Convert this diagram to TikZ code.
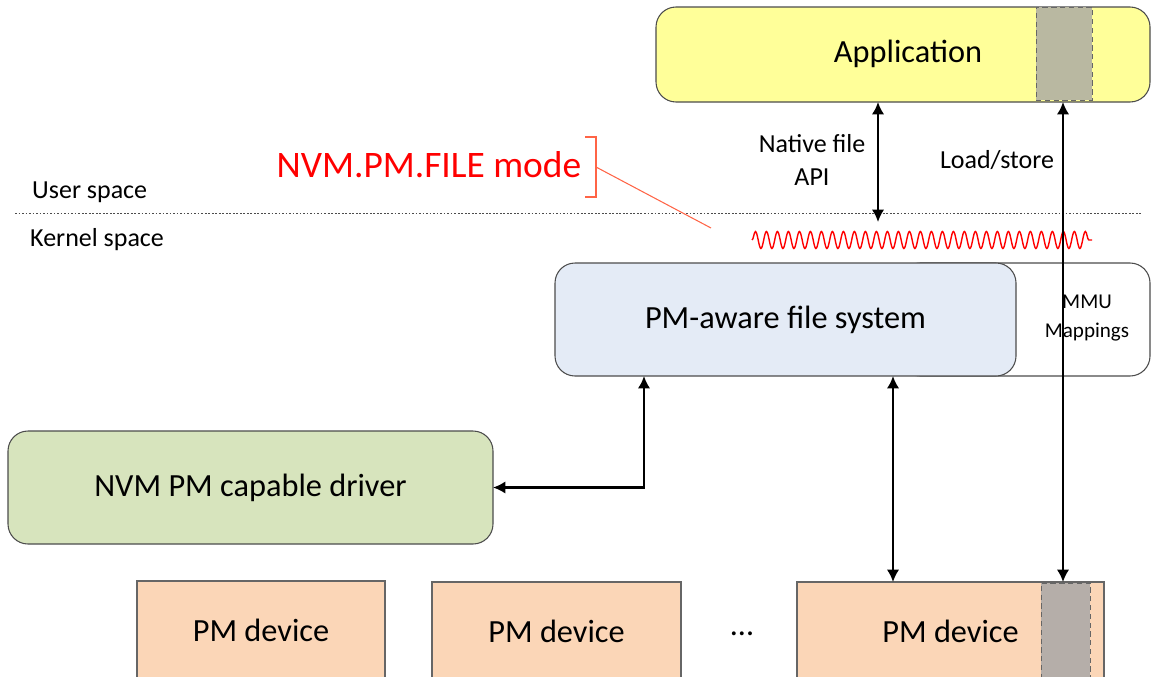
\documentclass[tikz,border=0pt]{standalone}
\usepackage{fontspec}
\setmainfont{Carlito}
\usetikzlibrary{positioning, calc}
\usetikzlibrary{arrows.meta, decorations.pathmorphing}
\definecolor{appyellow}{RGB}{255,255,153}
\definecolor{appslot}{RGB}{185,184,161}
\definecolor{devslot}{RGB}{181,174,169}
\definecolor{fsblue}{RGB}{228,235,246}
\definecolor{drvgreen}{RGB}{215,228,189}
\definecolor{pmpeach}{RGB}{251,214,183}
\definecolor{modered}{RGB}{255,100,70}
\tikzset{boxsize/.style 2 args={minimum width=#1*0.02cm, minimum height=#2*0.02cm}}
\tikzstyle{roundbox}=[draw=black!70, line width=0.6pt, rounded corners=0.4cm, inner sep=0pt, outer sep=0pt, font=\fontsize{18.4}{22}\selectfont]
\tikzstyle{devbox}=[draw=black!60, line width=0.6pt, fill=pmpeach, inner sep=0pt, outer sep=0pt, font=\fontsize{18.4}{22}\selectfont]
\tikzstyle{slotbox}=[draw=black!60, densely dashed, line width=0.4pt, inner sep=0pt, outer sep=0pt]
\tikzstyle{labeltext}=[font=\fontsize{14.8}{18.7}\selectfont, align=center]
\tikzstyle{modeline}=[draw=modered, line width=0.6pt]
\tikzstyle{edgepath} = [{Latex[length=7pt,width=7pt]}-{Latex[length=7pt,width=7pt]}, line width=1.2pt]

\begin{document}
\begin{tikzpicture}[x=0.02cm, y=-0.02cm]
        \clip (0,0) rectangle (1151,676);

        % user / kernel split
        \node[labeltext, anchor=west] (user) at (26,192) {User space};
        \node[labeltext, anchor=west] (kernel) at (24,240) {Kernel space};
        \draw[black!70, line width=0.5pt, dash pattern=on 1pt off 1pt] (15,213) -- (1141,213);

        % boxes
        \node[roundbox, fill=appyellow, boxsize={494}{95}] (app) at (903,54.5) {};
        \node[slotbox, fill=appslot, boxsize={56}{93}] (appslot) at (1064,53.5) {};
        \node[font=\fontsize{18.4}{22}\selectfont] (apptext) at (908,54) {Application};

        \node[roundbox, fill=white, boxsize={250}{113}] (mmu) at (1025,319.5) {};
        \node[font=\fontsize{12}{16}\selectfont, align=center] (mmutext) at (1087,318) {MMU\\Mappings};
        \node[roundbox, fill=fsblue, boxsize={461}{113}] (fsys) at (785.5,319.5) {PM-aware file system};

        \node[roundbox, fill=drvgreen, boxsize={485}{113}] (drv) at (250.5,487.5) {NVM PM capable driver};

        \node[devbox, boxsize={248}{98}] (dev1) at (261,630) {PM device};
        \node[devbox, boxsize={249}{98}] (dev2) at (556.5,631) {PM device};
        \node[font=\fontsize{18.4}{22}\selectfont] (dots) at (742,634) {…};
        \node[devbox, boxsize={307}{98}] (dev3) at (950.5,631) {PM device};
        \node[slotbox, fill=devslot, boxsize={49}{110}, anchor=north] (devslot) at (1065.5,583) {};

        % mode marker
        \node[font=\fontsize{21.3}{25}\selectfont, text=red] (mode) at (429,165) {NVM.PM.FILE mode};
        \draw[modeline] (585,137) -- (596,137) -- (596,197) -- (585,197);
        \coordinate (brk) at (596,167);
        \coordinate (wavetip) at (711,228);
        \draw[modeline] (brk) -- (wavetip);
        \draw[red, line width=0.8pt, decorate, decoration={snake, segment length=0.22cm, amplitude=0.17cm}] (752,240) -- (1092,240);

        % access labels
        \node[labeltext] (native) at (812,160) {Native file\\API};
        \node[labeltext] (loadstore) at (997,160) {Load/store};

        % connectors
        \coordinate (apiend) at (878,222);
        \coordinate (lsx) at (1063,0);
        \coordinate (drvx) at (644,0);
        \coordinate (devx) at (893,0);
        \draw[edgepath] (apiend |- app.south) -- (apiend);
        \draw[edgepath] (lsx |- app.south) -- (lsx |- dev3.north);
        \draw[edgepath] (drvx |- fsys.south) |- (drv.east);
        \draw[edgepath] (devx |- fsys.south) -- (devx |- dev3.north);
\end{tikzpicture}
\end{document}
